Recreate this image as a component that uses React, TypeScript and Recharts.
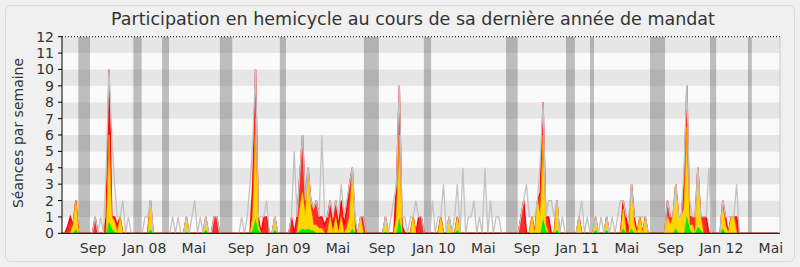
import React from 'react';
import {
  ComposedChart,
  Area,
  Line,
  XAxis,
  YAxis,
  ReferenceArea,
  ReferenceLine,
} from 'recharts';

const WEEK_COUNT = 260;
const X_END = 259.7;

// Weekly values: [week index, value]
const presence: [number, number][] = [
  [2, 0.4], [3, 1], [4, 0.5], [5, 2],
  [12, 1],
  [16, 1], [17, 10], [18, 1], [19, 1], [20, 0.5], [21, 1],
  [32, 2],
  [45, 1],
  [52, 1],
  [55, 1], [56, 1],
  [69, 3], [70, 10], [71, 1],
  [73, 1], [74, 1],
  [77, 1],
  [83, 1],
  [85, 1], [86, 3.5], [87, 6], [88, 2], [89, 4], [90, 2], [91, 1.5], [92, 2], [93, 1], [94, 1], [95, 0.5],
  [96, 1], [97, 2], [98, 0.3], [99, 2], [100, 0.3], [101, 2], [102, 0.5], [103, 1.5], [104, 3], [105, 4], [106, 0.5],
  [108, 1], [109, 1],
  [117, 1],
  [121, 3], [122, 9], [123, 0.5],
  [127, 1],
  [129, 1], [130, 1],
  [137, 1],
  [140, 1],
  [143, 1],
  [166, 1], [167, 2],
  [170, 1],
  [172, 2], [173, 2.5], [174, 8], [175, 1], [176, 1],
  [179, 2],
  [187, 1],
  [193, 1],
  [197, 1],
  [203, 2], [204, 1],
  [206, 3], [207, 1],
  [209, 1],
  [211, 1],
  [219, 2], [220, 1], [221, 1], [222, 3], [223, 1],
  [224, 1], [225, 3], [226, 9], [227, 1], [228, 1], [229, 1], [230, 4], [231, 1], [232, 1], [233, 1],
  [239, 2], [240, 1],
  [242, 1], [243, 1], [244, 1],
];

const interventionsLongues: [number, number][] = [
  [4, 0.5], [5, 2],
  [17, 6], [18, 1], [19, 0.7], [21, 1],
  [32, 2],
  [45, 1],
  [52, 1],
  [69, 1], [70, 7], [71, 0.5],
  [77, 1],
  [86, 1.5], [87, 2.5], [88, 1], [89, 4], [90, 1.5], [91, 0.5], [92, 0.5], [93, 0.3], [94, 0.3],
  [97, 1], [99, 1], [101, 1], [103, 0.3], [104, 1], [105, 4],
  [108, 1],
  [117, 1],
  [121, 1], [122, 6],
  [127, 1],
  [137, 1],
  [140, 1],
  [143, 1],
  [170, 1],
  [172, 2], [173, 1], [174, 6], [175, 0.5],
  [179, 2],
  [187, 1],
  [193, 1],
  [197, 1],
  [203, 1.5], [206, 2.5], [207, 0.5],
  [209, 1],
  [211, 1],
  [219, 1], [220, 0.5], [221, 1], [222, 3], [223, 1],
  [224, 1], [225, 1.5], [226, 6.5], [227, 0.5], [228, 0.5], [230, 4], [231, 1],
  [239, 1.5], [240, 0.5],
  [242, 1], [243, 1],
];

const interventions: [number, number][] = [
  [4, 0.5], [5, 2],
  [17, 4.5], [18, 1], [19, 0.7], [21, 1],
  [32, 2],
  [45, 1],
  [52, 1],
  [69, 1], [70, 5], [71, 0.5],
  [77, 1],
  [86, 1.5], [87, 2.5], [88, 1], [89, 3.5], [90, 1.5], [91, 0.5], [92, 0.5], [93, 0.3], [94, 0.3],
  [97, 1], [99, 1], [101, 1], [103, 0.3], [104, 1], [105, 3.5],
  [108, 1],
  [117, 1],
  [121, 1], [122, 4.5],
  [127, 1],
  [137, 1],
  [140, 1],
  [143, 1],
  [170, 1],
  [172, 2], [173, 1], [174, 4.5], [175, 0.5],
  [179, 2],
  [187, 1],
  [193, 1],
  [197, 1],
  [203, 1.5], [206, 2.5], [207, 0.5],
  [209, 1],
  [211, 1],
  [219, 1], [220, 0.5], [221, 1], [222, 3], [223, 1],
  [224, 1], [225, 1.5], [226, 5], [227, 0.5], [228, 0.5], [230, 3.5], [231, 1],
  [239, 1.5], [240, 0.5],
  [242, 1], [243, 1],
];

const questions: [number, number][] = [
  [5, 0.25], [17, 0.75], [18, 0.3], [19, 0.1], [32, 0.25], [45, 0.1], [52, 0.2],
  [69, 0.2], [70, 0.9], [71, 0.2], [77, 0.2],
  [86, 0.15], [87, 0.3], [88, 0.2], [89, 0.3], [90, 0.2], [91, 0.15], [105, 0.3],
  [117, 0.1], [122, 0.95], [143, 0.2],
  [174, 0.9], [175, 0.2], [179, 0.2], [193, 0.2], [197, 0.2], [203, 0.3], [206, 0.3],
  [222, 0.3], [226, 1.1], [227, 0.3], [230, 0.4], [231, 0.2], [239, 0.3],
];

const maxDeputes: [number, number][] = [
  [12, 1], [14, 1], [16, 4], [17, 10], [18, 6], [19, 3], [20, 1], [21, 1], [22, 2], [24, 1],
  [30, 1], [31, 1], [32, 2],
  [40, 1], [42, 1], [45, 1], [47, 1], [48, 2], [50, 1], [52, 1], [55, 1], [56, 1],
  [65, 1], [67, 1], [68, 3], [69, 5.5], [70, 10], [71, 1], [72, 1], [73, 1], [74, 2], [77, 1],
  [83, 1], [84, 5], [85, 1], [86, 3.5], [87, 6], [88, 2], [89, 4], [90, 2], [91, 1.5], [92, 2], [93, 1],
  [94, 6], [95, 1], [96, 1], [97, 2], [98, 1], [99, 2], [100, 1], [101, 3], [102, 1], [103, 2], [104, 3],
  [105, 4], [106, 1], [108, 1], [109, 1],
  [117, 1], [119, 1], [120, 2], [121, 3], [122, 9], [123, 1], [124, 1], [126, 1], [127, 1], [128, 2],
  [129, 1], [130, 1],
  [134, 2], [136, 1], [137, 1], [138, 3], [140, 1], [142, 1], [143, 3], [145, 4], [147, 1], [148, 1],
  [149, 2], [151, 1], [153, 4], [155, 2], [157, 1], [158, 1],
  [166, 1], [167, 2], [168, 3], [169, 1], [170, 1], [171, 1], [172, 2], [173, 4.5], [174, 8], [175, 1],
  [176, 2], [177, 2], [178, 1], [179, 2], [181, 1],
  [187, 1], [188, 2], [190, 1],
  [193, 1], [195, 1], [197, 1], [199, 1], [201, 1], [202, 2], [203, 2], [204, 1], [205, 1], [206, 3],
  [207, 1], [208, 1], [209, 1], [210, 1], [211, 1],
  [219, 2], [220, 1], [221, 1], [222, 3], [223, 1], [224, 1], [225, 4], [226, 9], [227, 2], [228, 1],
  [229, 1], [230, 4], [231, 1], [232, 1], [233, 1], [234, 4],
  [239, 2], [240, 1], [241, 1], [242, 1], [243, 1], [244, 3],
];

// Parliamentary recesses (week ranges)
const vacances: [number, number][] = [
  [5.9, 10.1], [25.8, 28.8], [36.2, 38.7], [57.1, 61.6], [78.8, 81.0], [109.2, 114.6],
  [130.9, 133.5], [160.6, 164.8], [182.3, 185.5], [191.0, 192.4], [212.7, 218.1],
  [234.4, 236.6], [248.1, 249.5],
];

const monthTicks = [11.2, 29.8, 47.7, 64.7, 82.0, 99.8, 115.7, 134.5, 152.4, 168.2, 186.4, 204.3, 220.2, 238.5, 256.4];
const monthLabels = ['Sep', 'Jan 08', 'Mai', 'Sep', 'Jan 09', 'Mai', 'Sep', 'Jan 10', 'Mai', 'Sep', 'Jan 11', 'Mai', 'Sep', 'Jan 12', 'Mai'];
const yTicks = [0, 1, 2, 3, 4, 5, 6, 7, 8, 9, 10, 11, 12];
const stripeBands = [0, 1, 2, 3, 4, 5, 6, 7, 8, 9, 10, 11];

function toMap(pairs: [number, number][]) {
  const m = new Map<number, number>();
  pairs.forEach(([w, v]) => m.set(w, v));
  return m;
}

const pm = toMap(presence);
const om = toMap(interventionsLongues);
const ym = toMap(interventions);
const qm = toMap(questions);
const gm = toMap(maxDeputes);

const data = Array.from({ length: WEEK_COUNT }, (_, w) => ({
  w,
  grey: gm.get(w) ?? 0,
  red: pm.get(w) ?? 0,
  orange: om.get(w) ?? 0,
  yellow: ym.get(w) ?? 0,
  green: qm.get(w) ?? 0,
}));

const FONT = '"DejaVu Sans", Verdana, sans-serif';

export default function App() {
  return (
    <div
      style={{
        position: 'absolute',
        left: 0,
        top: 0,
        width: 800,
        height: 267,
        background: '#f0f0f0',
        overflow: 'hidden',
        fontFamily: FONT,
      }}
    >
      <div
        style={{
          position: 'absolute',
          left: 5,
          top: 5,
          width: 788,
          height: 255,
          border: '1px solid #dcdcdc',
          borderRadius: 6,
        }}
      />
      <div style={{ position: 'absolute', left: 0, top: 0 }}>
        <ComposedChart
          width={800}
          height={267}
          data={data}
          margin={{ top: 36.7, right: 20, bottom: 0, left: 0 }}
        >
          {stripeBands.map((b) => (
            <ReferenceArea
              key={'s' + b}
              x1={0}
              x2={X_END}
              y1={b}
              y2={b + 1}
              fill={b % 2 === 1 ? '#e6e6e6' : '#fafafa'}
              fillOpacity={1}
              stroke="none"
              ifOverflow="hidden"
            />
          ))}
          {vacances.map(([a, b], i) => (
            <ReferenceArea
              key={'v' + i}
              x1={a}
              x2={b}
              y1={0}
              y2={12}
              fill="#4c4c4c"
              fillOpacity={0.35}
              stroke="none"
              ifOverflow="hidden"
            />
          ))}
          <XAxis
            dataKey="w"
            type="number"
            domain={[0, X_END]}
            allowDataOverflow
            ticks={monthTicks}
            interval={0}
            tickLine={false}
            height={33.7}
            axisLine={{ stroke: '#000' }}
            tick={{ fill: '#333', fontSize: 14, fontFamily: FONT }}
            tickMargin={4}
            tickFormatter={(v: number) => {
              const i = monthTicks.indexOf(v);
              return i >= 0 ? monthLabels[i] : '';
            }}
          />
          <YAxis
            type="number"
            domain={[0, 12]}
            ticks={yTicks}
            interval={0}
            width={62}
            axisLine={{ stroke: '#000' }}
            tickLine={{ stroke: '#000' }}
            tickSize={4}
            tickMargin={4}
            tick={{ fill: '#333', fontSize: 14, fontFamily: FONT }}
          />
          <ReferenceLine y={12} stroke="#000" strokeDasharray="1 2" />
          <ReferenceLine x={X_END} stroke="#c8c8c8" />
          <Line
            type="linear"
            dataKey="grey"
            stroke="#c2c2c2"
            strokeWidth={1.3}
            dot={false}
            activeDot={false}
            isAnimationActive={false}
          />
          <Area
            type="linear"
            dataKey="red"
            stroke="#ff0000"
            strokeWidth={1.4}
            fill="#ff2a2a"
            fillOpacity={1}
            dot={false}
            activeDot={false}
            isAnimationActive={false}
          />
          <Area
            type="linear"
            dataKey="orange"
            stroke="#ff8c00"
            strokeWidth={1}
            fill="#ffa500"
            fillOpacity={1}
            dot={false}
            activeDot={false}
            isAnimationActive={false}
          />
          <Area
            type="linear"
            dataKey="yellow"
            stroke="none"
            fill="#ffd700"
            fillOpacity={1}
            dot={false}
            activeDot={false}
            isAnimationActive={false}
          />
          <Area
            type="linear"
            dataKey="green"
            stroke="none"
            fill="#00ee00"
            fillOpacity={1}
            dot={false}
            activeDot={false}
            isAnimationActive={false}
          />
        </ComposedChart>
      </div>
      <div
        style={{
          position: 'absolute',
          left: 26,
          top: 7,
          width: 774,
          textAlign: 'center',
          fontSize: 17.5,
          color: '#333',
          lineHeight: '24px',
        }}
      >
        Participation en hemicycle au cours de sa dernière année de mandat
      </div>
      <div
        style={{
          position: 'absolute',
          left: 18 - 100,
          top: 133 - 10,
          width: 200,
          height: 20,
          lineHeight: '20px',
          textAlign: 'center',
          fontSize: 14,
          color: '#333',
          transform: 'rotate(-90deg)',
          transformOrigin: '50% 50%',
        }}
      >
        Séances par semaine
      </div>
    </div>
  );
}
